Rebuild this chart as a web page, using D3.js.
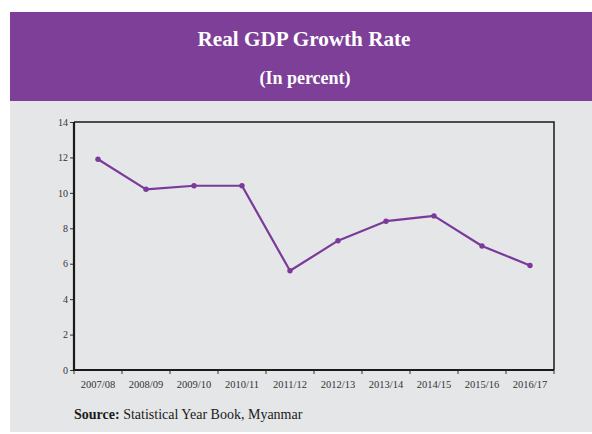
<!DOCTYPE html>
<html>
<head>
<meta charset="utf-8">
<script src="https://cdn.jsdelivr.net/npm/d3@7"></script>
<style>
  html, body { margin: 0; padding: 0; background: #ffffff; }
  svg { display: block; }
</style>
</head>
<body>
<svg id="chart" width="592" height="434"></svg>
<script>
// Fiscal years and real GDP growth (%)
const years = ["2007/08", "2008/09", "2009/10", "2010/11", "2011/12",
               "2012/13", "2013/14", "2014/15", "2015/16", "2016/17"];
const growth = [11.9, 10.2, 10.4, 10.4, 5.6, 7.3, 8.4, 8.7, 7.0, 5.9];
const yTicks = [0, 2, 4, 6, 8, 10, 12, 14];

const title = "Real GDP Growth Rate";
const subtitle = "(In percent)";
const sourceLabel = "Source:";
const sourceText = " Statistical Year Book, Myanmar";

const W = 592, H = 434;
const purple = "#7e3f98";
const lineColor = "#7b3a9a";
const panel = "#e5e6e8";
const serif = "'Liberation Serif', 'Times New Roman', serif";

const svg = d3.select("#chart");

// Header band and grey panel
svg.append("rect").attr("x", 10).attr("y", 12).attr("width", W - 10).attr("height", 89).attr("fill", purple);
svg.append("rect").attr("x", 10).attr("y", 101).attr("width", W - 10).attr("height", 331).attr("fill", panel);

svg.append("text")
  .attr("x", 304).attr("y", 46)
  .attr("text-anchor", "middle")
  .attr("font-family", serif).attr("font-weight", "bold").attr("font-size", 21.5)
  .attr("textLength", 213).attr("lengthAdjust", "spacingAndGlyphs")
  .attr("fill", "#ffffff")
  .text(title);
svg.append("text")
  .attr("x", 305).attr("y", 83.5)
  .attr("text-anchor", "middle")
  .attr("font-family", serif).attr("font-weight", "bold").attr("font-size", 18)
  .attr("fill", "#ffffff")
  .text(subtitle);

// Plot area
const plot = { left: 74, right: 554, top: 122, bottom: 370 };

const x = d3.scaleBand().domain(years).range([plot.left, plot.right]).padding(0);
const y = d3.scaleLinear().domain([0, 14]).range([plot.bottom, plot.top]);

// Top and right frame lines
svg.append("path")
  .attr("d", `M${plot.left},${plot.top}H${plot.right}V${plot.bottom}`)
  .attr("fill", "none").attr("stroke", "#1a1a1a").attr("stroke-width", 1.5);

// Y axis
const yAxis = svg.append("g")
  .attr("transform", `translate(${plot.left},0)`)
  .call(d3.axisLeft(y).tickValues(yTicks).tickSize(4).tickPadding(2));
yAxis.select(".domain").remove();
yAxis.selectAll(".tick line").attr("stroke", "#333").attr("stroke-width", 1);
yAxis.selectAll(".tick text")
  .attr("font-family", serif).attr("font-size", 10).attr("fill", "#333");

// X axis: labels centred in each band, ticks on band boundaries
const xAxis = svg.append("g")
  .attr("transform", `translate(0,${plot.bottom})`)
  .call(d3.axisBottom(x).tickSize(0).tickPadding(11));
xAxis.select(".domain").remove();
xAxis.selectAll(".tick text")
  .attr("font-family", serif).attr("font-size", 10.5).attr("fill", "#333");

const bounds = years.map(d => x(d)).concat([x(years[years.length - 1]) + x.bandwidth()]);
svg.append("g").selectAll("line").data(bounds).join("line")
  .attr("x1", d => d).attr("x2", d => d)
  .attr("y1", plot.bottom).attr("y2", plot.bottom + 4)
  .attr("stroke", "#333").attr("stroke-width", 1);

// Thick left and bottom axis lines
svg.append("path")
  .attr("d", `M${plot.left},${plot.top}V${plot.bottom}H${plot.right}`)
  .attr("fill", "none").attr("stroke", "#1a1a1a").attr("stroke-width", 2.2);

// Growth line with markers
const data = years.map((d, i) => ({ year: d, value: growth[i] }));
const cx = d => x(d.year) + x.bandwidth() / 2;

svg.append("path")
  .datum(data)
  .attr("fill", "none")
  .attr("stroke", lineColor)
  .attr("stroke-width", 2.2)
  .attr("stroke-linejoin", "round")
  .attr("d", d3.line().x(cx).y(d => y(d.value)));

svg.append("g").selectAll("circle").data(data).join("circle")
  .attr("cx", cx)
  .attr("cy", d => y(d.value))
  .attr("r", 2.7)
  .attr("fill", lineColor);

// Source note
const src = svg.append("text")
  .attr("x", 74).attr("y", 419)
  .attr("font-family", serif).attr("font-size", 14).attr("fill", "#1a1a1a");
src.append("tspan").attr("font-weight", "bold").text(sourceLabel);
src.append("tspan").text(sourceText);
</script>
</body>
</html>
